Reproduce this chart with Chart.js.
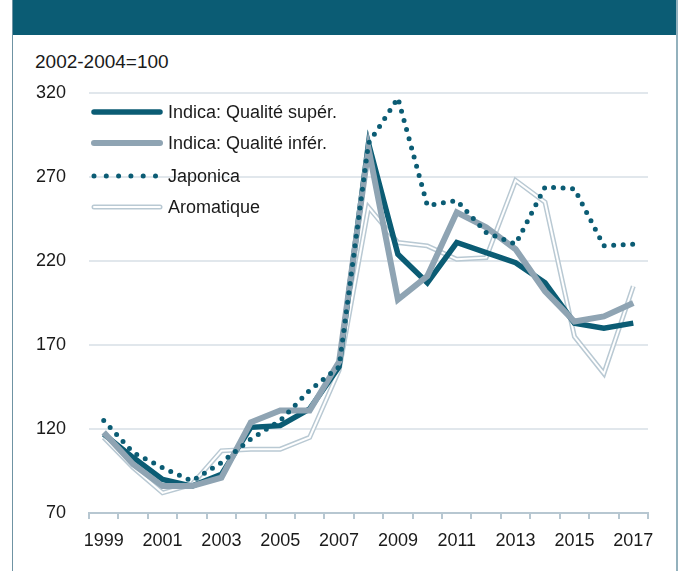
<!DOCTYPE html>
<html>
<head>
<meta charset="utf-8">
<script src="https://cdn.jsdelivr.net/npm/chart.js@4"></script>
<style>
  body { margin: 0; background: #fff; font-family: "Liberation Sans", Arial, sans-serif; }
  #wrap { position: relative; width: 681px; height: 571px; overflow: hidden; }
  #frame { position: absolute; left: 12px; top: 0; width: 663px; height: 571px;
           border-left: 1px solid #6f93a3; border-right: 2px solid #93b1bd; }
  #band { position: absolute; left: 13px; top: 0; width: 663px; height: 35px; background: #0b5c74; }
  #unit { position: absolute; left: 35px; top: 51px; font-size: 19px; color: #1a1a1a; }
  canvas { position: absolute; left: 0; top: 0; }
</style>
</head>
<body>
<div id="wrap">
  <div id="frame"></div>
  <div id="band"></div>
  <div id="unit">2002-2004=100</div>
  <canvas id="chart" width="681" height="571"></canvas>
</div>
<script>
// annees et indices (2002-2004=100)
const years = ['1999', '2000', '2001', '2002', '2003', '2004', '2005', '2006', '2007', '2008',
  '2009', '2010', '2011', '2012', '2013', '2014', '2015', '2016', '2017'];
const indicaSup = [117, 103, 90, 86, 93, 121, 122, 132, 157, 290, 224, 207, 231, 225, 219, 207, 183, 180, 183];
const indicaInf = [118, 99, 86, 86, 91, 124, 131, 131, 160, 287, 197, 211, 249, 240, 227, 202, 184, 187, 195];
const japonica = [125, 106, 97, 89, 100, 114, 125, 143, 157, 290, 317, 253, 256, 237, 230, 264, 263, 229, 230];
const aromatique = [115, 97, 82, 87, 107, 108, 108, 115, 155, 252, 231, 229, 221, 222, 268, 255, 175, 153, 205];
const legendNames = ['Indica: Qualité supér.', 'Indica: Qualité infér.', 'Japonica', 'Aromatique'];

const teal = '#0b5c74';
const grey = '#8fa4b3';
const pale = '#b9c9d3';
const font = '"Liberation Sans", Arial, sans-serif';

// légende dessinée à la main (échantillons de trait)
const legendPlugin = {
  id: 'customLegend',
  afterDraw(chart) {
    const ctx = chart.ctx;
    const rows = [112, 143, 176, 207];
    const x0 = 92, x1 = 162;
    ctx.save();
    ctx.lineCap = 'round';
    rows.forEach((y, i) => {
      ctx.beginPath();
      ctx.moveTo(x0 + 2, y);
      ctx.lineTo(x1 - 2, y);
      if (i === 0) { ctx.strokeStyle = teal; ctx.lineWidth = 5.5; ctx.stroke(); }
      if (i === 1) { ctx.strokeStyle = grey; ctx.lineWidth = 6; ctx.stroke(); }
      if (i === 2) {
        ctx.setLineDash([0, 12.3]);
        ctx.strokeStyle = teal; ctx.lineWidth = 5; ctx.stroke();
        ctx.setLineDash([]);
      }
      if (i === 3) {
        ctx.strokeStyle = pale; ctx.lineWidth = 5; ctx.stroke();
        ctx.strokeStyle = '#fff'; ctx.lineWidth = 2; ctx.stroke();
      }
      ctx.fillStyle = '#1a1a1a';
      ctx.font = '18px ' + font;
      ctx.textBaseline = 'middle';
      ctx.fillText(legendNames[i], 168, y + 1);
    });
    ctx.restore();
  }
};

new Chart(document.getElementById('chart'), {
  type: 'line',
  data: {
    labels: years,
    datasets: [
      { label: 'Japonica', data: japonica, borderColor: teal, borderWidth: 5,
        borderDash: [0, 9.5], borderCapStyle: 'round', order: 0 },
      { label: 'Indica: Qualité infér.', data: indicaInf, borderColor: grey, borderWidth: 6, order: 1 },
      { label: 'Indica: Qualité supér.', data: indicaSup, borderColor: teal, borderWidth: 5.5, order: 2 },
      { label: 'Aromatique (coeur)', data: aromatique, borderColor: '#fff', borderWidth: 2, order: 3 },
      { label: 'Aromatique', data: aromatique, borderColor: pale, borderWidth: 5, order: 4 }
    ]
  },
  options: {
    responsive: false,
    animation: false,
    layout: { padding: { left: 0, top: 93, right: 33, bottom: 0 } },
    elements: {
      point: { radius: 0 },
      line: { tension: 0, borderJoinStyle: 'miter', fill: false }
    },
    plugins: { legend: { display: false }, tooltip: { enabled: false } },
    scales: {
      x: {
        offset: true,
        grid: { offset: true, drawOnChartArea: false, drawTicks: true, tickLength: 6, color: '#b7c7d1', lineWidth: 2 },
        border: { display: true, color: '#b7c7d1', width: 2 },
        ticks: {
          autoSkip: false, maxRotation: 0, padding: 11, color: '#1a1a1a',
          font: { family: font, size: 18 },
          callback: (v, i) => (i % 2 === 0 ? years[i] : '')
        },
        afterFit: s => { s.height = 58; }
      },
      y: {
        min: 70, max: 320,
        grid: { drawTicks: false, color: '#e1e7ec', lineWidth: 2 },
        border: { display: false },
        ticks: { stepSize: 50, padding: 23, color: '#1a1a1a', font: { family: font, size: 18 } },
        afterFit: s => { s.width = 89; }
      }
    }
  },
  plugins: [legendPlugin]
});
</script>
</body>
</html>
